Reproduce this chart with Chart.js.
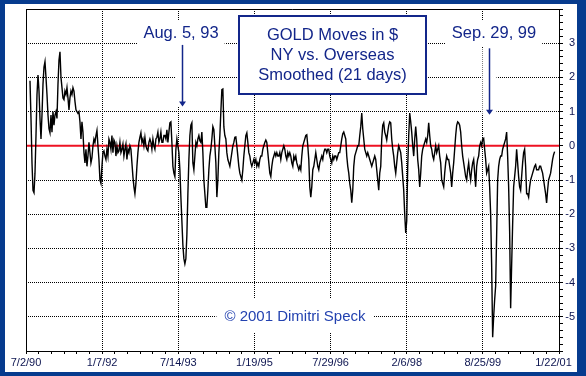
<!DOCTYPE html>
<html>
<head>
<meta charset="utf-8">
<script src="https://cdn.jsdelivr.net/npm/chart.js@4/dist/chart.umd.min.js"></script>
<style>
  html, body { margin: 0; padding: 0; background: #fff; }
</style>
</head>
<body>
<canvas id="chart" width="586" height="376"></canvas>
<script>
// trading-day axis: one label every 381 trading days
const dateLabels = ['7/2/90', '1/7/92', '7/14/93', '1/19/95', '7/29/96', '2/6/98', '8/25/99', '1/22/01'];
const labelDays = [0, 381, 762, 1143, 1524, 1905, 2286, 2667];
const minorPerLabel = 6;

const yLabels = [-5, -4, -3, -2, -1, 0, 1, 2, 3];

// smoothed NY minus overseas move, sampled every 5 trading days from day 20
const firstDay = 20;
const stepDays = 5;
const moves = [
  1.9, 0.8, -0.5, -1.3, -1.37, -0.8, 0.3, 1.5, 2.07, 1.6,
  0.8, 0.2, 0.9, 1.8, 2.3, 2.46, 2.0, 1.5, 0.9, 0.5,
  0.38, 0.9, 0.4, 1.0, 0.6, 0.9, 1.0, 0.8, 1.8, 2.5,
  2.75, 2.0, 1.7, 1.4, 1.35, 1.6, 1.5, 1.7, 1.4, 1.05,
  1.4, 1.6, 1.5, 1.7, 1.6, 1.3, 1.05, 1.0, 0.95, 1.0,
  0.7, 0.2, 0.7, 0.4, -0.2, -0.5, -0.1, -0.6, -0.3, 0.1,
  -0.2, -0.5, -0.35, 0.0, 0.2, 0.1, 0.3, 0.45, 0.0, -0.4,
  -1.0, -1.1, -0.6, -0.2, -0.15, -0.3, -0.4, -0.1, -0.3, 0.2,
  0.1, -0.1, 0.3, -0.2, 0.17, 0.1, -0.3, 0.0, -0.2, -0.15,
  0.1, -0.2, -0.1, 0.05, -0.3, -0.1, 0.05, -0.4, -0.1, -0.2,
  0.0, -0.1, -0.5, -0.9, -1.2, -1.4, -1.1, -0.6, -0.2, 0.1,
  0.25, 0.38, 0.1, 0.2, 0.0, 0.25, 0.0, -0.1, -0.15, 0.1,
  0.2, 0.1, -0.1, 0.2, 0.0, -0.1, 0.2, 0.25, 0.4, 0.1,
  0.2, 0.4, 0.1, 0.1, 0.3, 0.3, 0.2, 0.47, 0.1, 0.4,
  0.67, 0.7, 0.1, -0.6, -0.8, -0.9, -0.1, 0.2, 0.0, -0.2,
  -0.7, -1.5, -2.2, -2.9, -3.3, -3.45, -3.3, -2.6, -1.4, -0.4,
  0.3, 0.6, 0.67, -0.5, -0.7, -0.3, 0.1, 0.0, 0.2, 0.3,
  0.15, 0.1, 0.4, -0.2, -1.0, -1.4, -1.8, -1.8, -1.3, -0.7,
  -0.3, -0.1, 0.2, 0.56, 0.47, 0.0, -0.5, -1.5, -1.0, -0.2,
  0.3, 1.0, 1.64, 1.66, 0.56, 0.3, 0.2, -0.2, -0.4, -0.5,
  -0.6, -0.4, -0.2, 0.0, 0.1, 0.25, 0.26, 0.0, -0.3, -0.6,
  -0.8, -0.9, -1.0, -0.7, -0.3, 0.0, 0.3, 0.38, 0.1, -0.2,
  -0.3, -0.5, -0.6, -0.5, -0.4, -0.5, -0.4, -0.6, -0.5, -0.6,
  -0.4, -0.3, -0.3, -0.1, 0.0, 0.1, 0.17, 0.1, -0.2, -0.5,
  -0.8, -0.9, -0.6, -0.4, -0.3, -0.2, -0.3, -0.2, -0.3, -0.3,
  -0.2, -0.4, -0.2, -0.1, 0.0, -0.1, -0.3, -0.4, -0.2, -0.3,
  -0.2, -0.3, -0.5, -0.6, -0.3, -0.4, -0.3, -0.5, -0.6, -0.7,
  -0.6, -0.7, -0.3, 0.0, 0.1, 0.2, 0.3, 0.32, 0.0, -0.4,
  -1.2, -1.5, -1.2, -0.7, -0.6, -0.4, -0.2, -0.4, -0.6, -0.7,
  -0.5, -0.4, -0.3, -0.4, -0.2, -0.1, -0.1, -0.2, -0.1, -0.1,
  -0.3, -0.4, -0.5, -0.3, -0.4, -0.3, -0.3, -0.4, -0.3, -0.2,
  -0.2, 0.0, 0.2, 0.35, 0.4, 0.3, 0.2, -0.3, -0.6, -0.8,
  -1.1, -1.3, -1.66, -1.3, -0.6, -0.3, -0.2, -0.1, 0.0, 0.0,
  0.3, 0.56, 0.96, 0.5, 0.2, -0.1, -0.2, -0.3, -0.2, -0.3,
  -0.4, -0.5, -0.6, -0.5, -0.4, -0.3, -0.4, -0.7, -1.0, -1.3,
  -0.8, -0.6, 0.2, 0.6, 0.67, 0.4, 0.3, 0.17, 0.4, 0.6,
  0.7, 0.67, 0.2, -0.1, -0.3, -0.6, -0.8, -0.5, -0.2, 0.0,
  -0.1, -0.2, -0.5, -0.9, -1.3, -2.0, -2.55, -2.2, -0.6, 0.3,
  0.96, 0.7, 0.4, 0.0, -0.3, 0.2, 0.56, 0.2, -0.4, -0.7,
  -1.2, -0.8, -0.3, -0.1, 0.0, 0.1, 0.2, 0.1, 0.3, 0.67,
  0.3, 0.0, -0.1, -0.3, -0.4, -0.2, 0.0, -0.2, -0.1, 0.0,
  -0.3, -0.5, -1.0, -1.1, -1.2, -0.8, -0.5, -0.3, -0.4, -0.4,
  -0.6, -0.8, -1.2, -0.8, -0.5, -0.1, 0.3, 0.6, 0.7, 0.67,
  0.6, 0.4, 0.0, -0.3, -0.5, -0.7, -0.9, -1.0, -0.7, -0.5,
  -0.8, -1.0, -0.7, -0.5, -0.4, -0.8, -1.2, -0.6, -0.4, -0.3,
  0.0, 0.1, 0.0, 0.2, 0.22, -0.1, -0.4, -0.8, -0.7, -0.6,
  -1.2, -2.0, -3.5, -5.6, -5.0, -4.5, -4.1, -2.6, -1.0, -0.6,
  -0.4, -0.3, -0.3, -0.1, 0.0, 0.1, 0.2, 0.4, -0.3, -1.2,
  -2.5, -4.75, -3.5, -2.3, -1.2, -0.9, -0.6, -0.1, -0.5, -0.9,
  -1.2, -1.3, -0.9, -0.5, -0.2, -0.1, -0.6, -1.4, -1.4, -1.5,
  -1.2, -1.0, -0.9, -0.8, -0.7, -0.6, -0.55, -0.7, -0.7, -0.7,
  -0.6, -0.6, -0.7, -0.8, -1.0, -1.2, -1.4, -1.67, -1.3, -1.0,
  -0.9, -0.8, -0.6, -0.4, -0.26, -0.17
];

// annotations
const titleLines = ['GOLD Moves in $', 'NY vs. Overseas', 'Smoothed (21 days)'];
const copyright = '\u00A9 2001 Dimitri Speck';
const markers = [
  { text: 'Aug. 5, 93', day: 781, from: 2.95, to: 1.15, textX: 181 },
  { text: 'Sep. 29, 99', day: 2316, from: 2.85, to: 0.91, textX: 494 }
];

const FONT = '"Liberation Sans", Arial, sans-serif';
const NAVY = '#13268a';
const FRAME = '#063b8e';
const CLEAR = 'rgba(0,0,0,0)';

const points = moves.map((v, i) => ({ x: firstDay + i * stepDays, y: v }));

const xTicks = [];
for (let k = 0; k < labelDays.length - 1; k++) {
  const step = (labelDays[k + 1] - labelDays[k]) / minorPerLabel;
  for (let j = 0; j < minorPerLabel; j++) xTicks.push(labelDays[k] + j * step);
}
xTicks.push(labelDays[labelDays.length - 1]);

const yTicks = [];
for (let k = -30; k <= 20; k++) yTicks.push(k / 5);

function isMajorY(v) {
  return yLabels.includes(Math.round(v)) && Math.abs(v - Math.round(v)) < 1e-6;
}

function xLabel(v, i) {
  if (i % minorPerLabel !== 0) return '';
  const k = i / minorPerLabel;
  // last label sits a little left of the axis end, as in the original
  return k === dateLabels.length - 1 ? dateLabels[k] + '\u2003' : dateLabels[k];
}

const decor = {
  id: 'decor',
  beforeDraw(chart) {
    const c = chart.ctx;
    c.save();
    c.fillStyle = FRAME;
    c.fillRect(0, 0, chart.width, chart.height);
    c.fillStyle = '#fff';
    c.fillRect(5, 4, chart.width - 14, chart.height - 8);
    c.restore();
  },
  beforeDatasetsDraw(chart) {
    const { ctx: c, chartArea: a, scales: { y } } = chart;
    const y0 = y.getPixelForValue(0);
    c.save();
    c.strokeStyle = '#ee1122';
    c.lineWidth = 2;
    c.beginPath();
    c.moveTo(a.left, y0);
    c.lineTo(a.right, y0);
    c.stroke();
    c.strokeStyle = '#000';
    c.lineWidth = 1;
    c.beginPath();
    c.moveTo(Math.round(a.left) + 0.5, a.bottom);
    c.lineTo(Math.round(a.left) + 0.5, Math.round(a.top) + 0.5);
    c.lineTo(a.right, Math.round(a.top) + 0.5);
    c.stroke();
    c.restore();
  },
  afterDraw(chart) {
    const { ctx: c, scales: { x, y } } = chart;
    c.save();
    c.textAlign = 'center';
    c.textBaseline = 'middle';

    // date markers with arrows
    markers.forEach(m => {
      const ax = Math.round(x.getPixelForValue(m.day)) + 0.5;
      const top = y.getPixelForValue(m.from);
      const tip = y.getPixelForValue(m.to);
      c.font = '16.5px ' + FONT;
      const w = c.measureText(m.text).width;
      c.fillStyle = '#fff';
      c.fillRect(m.textX - w / 2 - 6, 20, w + 12, 27);
      c.fillRect(ax - 7, top, 14, tip - top);
      c.fillStyle = NAVY;
      c.fillText(m.text, m.textX, 33);
      c.strokeStyle = NAVY;
      c.lineWidth = 1.5;
      c.beginPath();
      c.moveTo(ax, top);
      c.lineTo(ax, tip - 2);
      c.stroke();
      c.beginPath();
      c.moveTo(ax - 3.5, tip - 5);
      c.lineTo(ax + 3.5, tip - 5);
      c.lineTo(ax, tip);
      c.closePath();
      c.fill();
    });

    // title box
    c.fillStyle = '#fff';
    c.fillRect(238, 15, 189, 80);
    c.strokeStyle = NAVY;
    c.lineWidth = 2;
    c.strokeRect(239, 16, 187, 78);
    c.fillStyle = NAVY;
    c.font = '16.5px ' + FONT;
    titleLines.forEach((t, i) => c.fillText(t, 332.5, 35 + i * 20));

    // copyright
    c.font = '15px ' + FONT;
    const cw = c.measureText(copyright).width;
    c.fillStyle = '#fff';
    c.fillRect(295 - cw / 2 - 8, 299, cw + 16, 34);
    c.fillStyle = '#2342b0';
    c.fillText(copyright, 295, 317);
    c.restore();
  }
};

new Chart(document.getElementById('chart'), {
  type: 'line',
  data: {
    datasets: [{
      data: points,
      borderColor: '#000',
      borderWidth: 1.4,
      pointRadius: 0,
      tension: 0,
      fill: false
    }]
  },
  options: {
    responsive: false,
    animation: false,
    devicePixelRatio: 1,
    layout: { padding: { left: 26, top: 9, right: 11, bottom: 0 } },
    plugins: { legend: { display: false }, tooltip: { enabled: false } },
    scales: {
      x: {
        type: 'linear',
        min: labelDays[0],
        max: labelDays[labelDays.length - 1],
        afterBuildTicks: s => { s.ticks = xTicks.map(v => ({ value: v })); },
        afterFit: s => { s.height = 25; },
        ticks: {
          autoSkip: false,
          maxRotation: 0,
          padding: 2,
          color: '#0c1450',
          font: { family: FONT, size: 11 },
          callback: xLabel
        },
        grid: {
          color: c => (c.index % minorPerLabel === 0 ? '#000' : CLEAR),
          tickColor: '#000',
          tickLength: 3,
          lineWidth: 1
        },
        border: { display: true, color: '#000', width: 1, dash: [1, 1] }
      },
      y: {
        position: 'right',
        min: -6,
        max: 4,
        afterBuildTicks: s => { s.ticks = yTicks.map(v => ({ value: v })); },
        afterFit: s => { s.width = 16; },
        ticks: {
          autoSkip: false,
          crossAlign: 'far',
          padding: 2,
          color: '#0c1450',
          font: { family: FONT, size: 11 },
          callback: v => (isMajorY(v) ? String(Math.round(v)) : '')
        },
        grid: {
          color: c => (isMajorY(c.tick.value) && Math.round(c.tick.value) !== 0 ? '#000' : CLEAR),
          tickColor: '#000',
          tickLength: 4,
          lineWidth: 1
        },
        border: { display: true, color: '#000', width: 1, dash: [1, 1] }
      }
    }
  },
  plugins: [decor]
});
</script>
</body>
</html>
